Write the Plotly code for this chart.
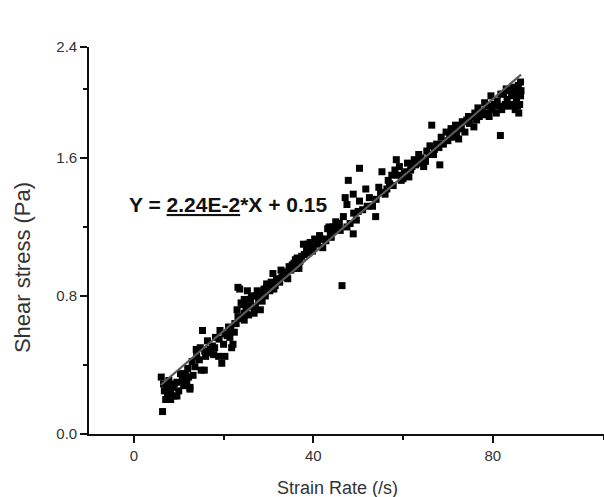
import plotly.graph_objects as go

# Strain rate (1/s) and shear stress (Pa)
strain_rate = [
    6.4, 6.1, 6.8, 7.5, 8.2, 7.1, 8.9, 10.0, 11.1, 9.6, 11.8, 12.5, 8.6, 10.4, 13.2, 7.8, 9.6, 8.2, 12.5, 6.6, 7.3,
    15.3, 13.9, 14.6, 15.7, 16.8, 17.5, 18.2, 18.9, 19.6, 16.4, 13.6, 20.3, 21.1, 22.1, 22.5, 23.2, 24.6, 25.7, 23.9,
    23.6, 25.3, 26.0, 27.5, 27.1, 28.2, 28.9, 29.6, 30.3, 31.0, 31.8, 32.8, 33.9, 34.6, 35.7, 36.0, 36.8, 37.8, 38.5,
    39.3, 40.3, 41.4, 42.1, 43.2, 44.3, 45.3, 46.4, 46.7, 47.5, 48.2, 48.9, 49.6, 50.0,
    21.8, 20.3, 15.0, 24.6, 24.6, 28.2, 26.8, 23.2, 29.6,
    37.0, 38.0, 39.0, 40.0, 41.0, 42.5, 43.8, 44.8, 45.8, 36.4, 29.0, 30.0, 31.5, 32.2, 33.0, 34.0, 35.0,
    20.8, 21.6, 22.8, 24.0, 25.0, 26.5, 27.8, 17.0, 18.0, 19.0, 14.0, 12.0, 11.5, 16.0,
    47.1, 47.8, 50.3, 47.5, 48.9, 50.3, 51.7, 52.5, 53.2, 53.9, 54.6, 55.3, 56.0, 56.7, 57.5, 58.5, 58.2, 59.2,
    59.6, 60.3, 61.0, 61.7, 62.5, 63.5, 64.6, 65.3, 66.0, 66.4, 67.5, 68.2, 68.5, 69.6, 70.7, 71.7, 72.4, 73.2,
    74.2, 75.3, 76.0, 76.7, 77.4, 78.2, 78.9, 79.6, 80.3, 81.0, 81.7, 82.4, 83.2, 83.9, 84.6, 85.3, 86.0, 85.7, 84.6,
    51.0, 52.0, 49.0, 54.0, 55.0, 57.0, 60.0, 62.0, 63.0, 64.0, 66.8, 70.0, 72.0, 74.8, 77.8, 80.8, 82.0, 83.5,
    85.0, 86.2, 86.2, 79.2, 75.8, 85.8,
    9.0, 10.8, 12.2, 13.0, 14.8, 15.8, 17.8, 19.2, 20.0, 21.4,
    22.4, 23.0, 24.3, 25.6, 26.2, 27.0, 28.6, 29.3, 30.6, 31.2, 32.5, 33.4, 34.3, 35.3, 36.2, 37.4, 38.8, 39.8,
    40.8, 41.8, 42.8, 43.5, 44.0, 45.0, 46.0,
    56.4, 57.8, 58.8, 60.8, 61.3, 62.8, 63.8, 65.0, 65.8, 67.0, 68.0, 69.0, 70.4, 71.2, 71.9, 73.0, 73.8, 74.6,
    76.4, 77.0, 78.5, 79.9, 81.4, 82.8, 84.2, 84.9, 85.5, 86.3, 83.0, 81.8,
]
shear_stress = [
    0.13, 0.33, 0.25, 0.22, 0.24, 0.20, 0.22, 0.25, 0.28, 0.30, 0.31, 0.26, 0.27, 0.35, 0.34, 0.31, 0.22, 0.20, 0.27, 0.29, 0.27,
    0.60, 0.49, 0.43, 0.37, 0.47, 0.51, 0.56, 0.45, 0.41, 0.54, 0.39, 0.58, 0.62, 0.52, 0.64, 0.68, 0.70, 0.74, 0.76,
    0.84, 0.83, 0.78, 0.83, 0.74, 0.72, 0.81, 0.87, 0.83, 0.93, 0.89, 0.95, 0.91, 0.97, 0.99, 1.01, 0.96, 1.10, 1.08,
    1.11, 1.13, 1.15, 1.08, 1.19, 1.20, 1.21, 0.86, 1.26, 1.20, 1.22, 1.16, 1.24, 1.29,
    0.50, 0.45, 0.37, 0.66, 0.78, 0.82, 0.70, 0.85, 0.85,
    1.00, 1.04, 1.05, 1.08, 1.10, 1.13, 1.16, 1.18, 1.22, 1.02, 0.84, 0.86, 0.86, 0.90, 0.91, 0.94, 0.95,
    0.57, 0.60, 0.64, 0.67, 0.72, 0.74, 0.78, 0.49, 0.50, 0.55, 0.45, 0.38, 0.35, 0.45,
    1.37, 1.47, 1.54, 1.33, 1.39, 1.35, 1.42, 1.37, 1.32, 1.26, 1.43, 1.52, 1.39, 1.47, 1.50, 1.59, 1.53, 1.55,
    1.47, 1.51, 1.57, 1.53, 1.59, 1.62, 1.55, 1.64, 1.67, 1.79, 1.68, 1.56, 1.72, 1.75, 1.77, 1.79, 1.71, 1.81,
    1.82, 1.84, 1.86, 1.89, 1.87, 1.92, 1.90, 1.96, 1.91, 1.93, 1.73, 1.97, 1.94, 1.99, 2.01, 1.95, 1.91, 2.02, 1.91,
    1.30, 1.32, 1.28, 1.36, 1.40, 1.45, 1.48, 1.55, 1.58, 1.60, 1.62, 1.70, 1.76, 1.80, 1.85, 1.86, 1.88, 1.90,
    1.88, 1.96, 2.04, 1.84, 1.78, 1.86,
    0.29, 0.31, 0.33, 0.42, 0.50, 0.48, 0.46, 0.60, 0.52, 0.56,
    0.59, 0.72, 0.75, 0.69, 0.80, 0.80, 0.77, 0.80, 0.88, 0.84, 0.88, 0.93, 0.90, 0.98, 0.96, 1.03, 1.10, 1.06,
    1.12, 1.13, 1.12, 1.20, 1.14, 1.23, 1.18,
    1.42, 1.44, 1.50, 1.52, 1.49, 1.56, 1.57, 1.58, 1.62, 1.65, 1.66, 1.68, 1.73, 1.72, 1.74, 1.77, 1.75, 1.84,
    1.82, 1.84, 1.86, 1.88, 1.90, 1.91, 1.96, 1.98, 1.90, 1.99, 2.00, 1.97,
]

# Linear fit end points (Y = 2.24E-2*X + 0.15)
fit_x = [6.0, 86.3]
fit_y = [0.284, 2.083]

x_major = [0, 40, 80]
x_major_text = ["0", "40", "80"]
x_minor = [20, 60, 104.75]
y_major = [0, 0.8, 1.6, 2.242]
y_major_text = ["0.0", "0.8", "1.6", "2.4"]
y_minor = [0.4, 1.2, 2.0]

FONT = "Liberation Sans, Arial, sans-serif"

fig = go.Figure()
fig.add_trace(go.Scatter(
    x=strain_rate, y=shear_stress, mode="markers",
    marker=dict(symbol="square", size=7, color="#000000", line=dict(width=0)),
    showlegend=False, hoverinfo="skip",
))
fig.add_trace(go.Scatter(
    x=fit_x, y=fit_y, mode="lines",
    line=dict(color="#5a5a5a", width=2.2),
    showlegend=False, hoverinfo="skip",
))

fig.update_layout(
    width=604, height=497,
    margin=dict(l=89, r=0, t=47, b=63),
    paper_bgcolor="white", plot_bgcolor="white",
    font=dict(family=FONT, color="#333333"),
    xaxis=dict(
        range=[-10, 104.8], showgrid=False, zeroline=False,
        showline=True, linecolor="#111111", linewidth=1.6,
        tickmode="array", tickvals=x_major, ticktext=x_major_text,
        ticks="outside", ticklen=7, tickwidth=1.5, tickcolor="#111111",
        tickfont=dict(size=15, color="#333333"),
        minor=dict(tickmode="array", tickvals=x_minor, ticks="outside",
                   ticklen=4, tickwidth=1.5, tickcolor="#111111", showgrid=False),
    ),
    yaxis=dict(
        range=[0, 2.243], showgrid=False, zeroline=False,
        showline=True, linecolor="#111111", linewidth=1.6,
        tickmode="array", tickvals=y_major, ticktext=y_major_text,
        ticks="outside", ticklen=7, tickwidth=1.5, tickcolor="#111111",
        tickfont=dict(size=15, color="#333333"),
        minor=dict(tickmode="array", tickvals=y_minor, ticks="outside",
                   ticklen=4, tickwidth=1.5, tickcolor="#111111", showgrid=False),
    ),
    annotations=[
        dict(text="Y = <u>2.24E-2</u>*X + 0.15", xref="x", yref="y",
             x=-1.6, y=1.33, xanchor="left", yanchor="middle", showarrow=False,
             font=dict(family=FONT, size=21, color="#111111", weight="bold")),
        dict(text="Shear stress (Pa)", xref="paper", yref="paper",
             x=-0.128, y=0.429, xanchor="center", yanchor="middle", textangle=-90,
             showarrow=False, font=dict(family=FONT, size=22, color="#333333")),
        dict(text="Strain Rate (/s)", xref="paper", yref="paper",
             x=0.482, y=-0.1395, xanchor="center", yanchor="middle",
             showarrow=False, font=dict(family=FONT, size=18, color="#333333")),
    ],
)

fig.write_html("out.html")
